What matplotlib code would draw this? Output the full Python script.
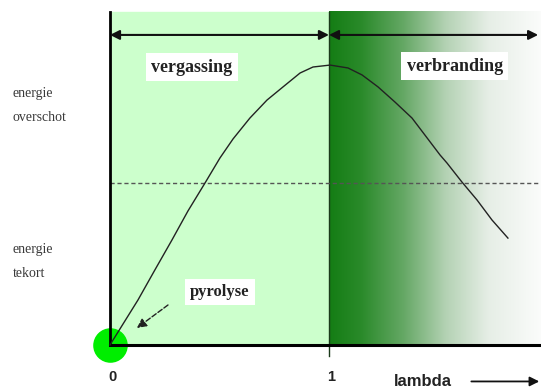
import numpy as np
import matplotlib.pyplot as plt
from matplotlib.colors import LinearSegmentedColormap

# energy curve read against lambda (x) and relative energy (y, dashed line = 1)
lam = [0.0, 0.128, 0.205, 0.283, 0.356, 0.434, 0.502, 0.562, 0.639, 0.717, 0.79,
       0.868, 0.927, 1.005, 1.087, 1.151, 1.224, 1.301, 1.379, 1.438, 1.507, 1.539,
       1.607, 1.676, 1.744, 1.817]
energy = [0.0, 0.278, 0.463, 0.648, 0.827, 1.0, 1.154, 1.272, 1.401, 1.512, 1.593,
          1.679, 1.716, 1.728, 1.71, 1.667, 1.593, 1.5, 1.401, 1.296, 1.173, 1.123,
          1.006, 0.895, 0.772, 0.66]

zone_labels = ['vergassing', 'verbranding']
y_labels = ['energie\noverschot', 'energie\ntekort']
x_ticks = [0, 1]
x_name = 'lambda'

fig = plt.figure(figsize=(5.41, 3.90), dpi=100)
ax = fig.add_axes([0, 0, 1, 1])
ax.set_xlim(-0.502, 1.968)
ax.set_ylim(-45 / 162, 345 / 162)
ax.axis('off')

top = 2.056
right = 1.968

# light green gasification zone
ax.fill_between([0, 1], 0, top, color='#ccffcc', zorder=0)

# dark green combustion zone fading to white
cmap = LinearSegmentedColormap.from_list('fade', [
    (0.0, '#147d14'), (0.15, '#2a8a2a'), (0.35, '#65a865'),
    (0.55, '#b4d2b4'), (0.75, '#e6eee6'), (1.0, '#fbfcfb')])
grad = np.linspace(0, 1, 256).reshape(1, -1)
ax.imshow(grad, extent=[1, right, 0, top], aspect='auto', cmap=cmap, zorder=0.5)

# origin marker
ax.scatter([0], [0], s=620, color='#00ee00', zorder=1, linewidths=0)

# axes
ax.plot([0, 0], [0, top], color='black', lw=2, zorder=3)
ax.plot([0, right], [0, 0], color='black', lw=2.2, zorder=3)
ax.plot([1, 1], [-0.07, top], color='#1a3a1a', lw=1, zorder=2)

# dashed break-even line
ax.plot([0, right], [1, 1], color='#555555', lw=1, ls=(0, (3, 2)), zorder=2)

# energy curve
ax.plot(lam, energy, color='#222222', lw=1, zorder=4)

# zone arrows
arr_y = 1.914
for a, b in [(0, 1), (1, 1.955)]:
    ax.annotate('', xy=(a, arr_y), xytext=(b, arr_y),
                arrowprops=dict(arrowstyle='<|-|>', color='#111111', lw=1.5,
                                mutation_scale=14, shrinkA=0, shrinkB=0), zorder=5)

box = dict(boxstyle='square,pad=0.3', facecolor='white', edgecolor='none')
ax.text(0.374, 1.716, zone_labels[0], ha='center', va='center', family='Liberation Serif',
        fontweight='bold', fontsize=13, color='#222222', bbox=box, zorder=6)
ax.text(1.575, 1.722, zone_labels[1], ha='center', va='center', family='Liberation Serif',
        fontweight='bold', fontsize=13, color='#222222', bbox=box, zorder=6)
ax.text(0.502, 0.327, 'pyrolyse', ha='center', va='center', family='Liberation Serif',
        fontweight='bold', fontsize=12, color='#222222', bbox=box, zorder=6)
ax.annotate('', xy=(0.123, 0.105), xytext=(0.265, 0.247),
            arrowprops=dict(arrowstyle='-|>', color='#222222', lw=1, ls='--',
                            mutation_scale=14, shrinkA=0, shrinkB=0), zorder=6)

ax.text(-0.443, 1.48, y_labels[0], ha='left', va='center', family='Liberation Serif',
        fontsize=10, color='#3a3a3a', linespacing=2.1)
ax.text(-0.443, 0.515, y_labels[1], ha='left', va='center', family='Liberation Serif',
        fontsize=10, color='#3a3a3a', linespacing=2.1)

for t in x_ticks:
    ax.text(t + 0.01, -0.2, str(t), ha='center', va='center', family='Liberation Sans',
            fontweight='bold', fontsize=10.5, color='#222222')
ax.text(1.43, -0.225, x_name, ha='center', va='center', family='Liberation Sans',
        fontweight='bold', fontsize=12, color='#222222')
ax.annotate('', xy=(1.96, -0.225), xytext=(1.65, -0.225),
            arrowprops=dict(arrowstyle='-|>', color='#111111', lw=1.3,
                            mutation_scale=14, shrinkA=0, shrinkB=0))

fig.savefig('out.png', dpi=100)
